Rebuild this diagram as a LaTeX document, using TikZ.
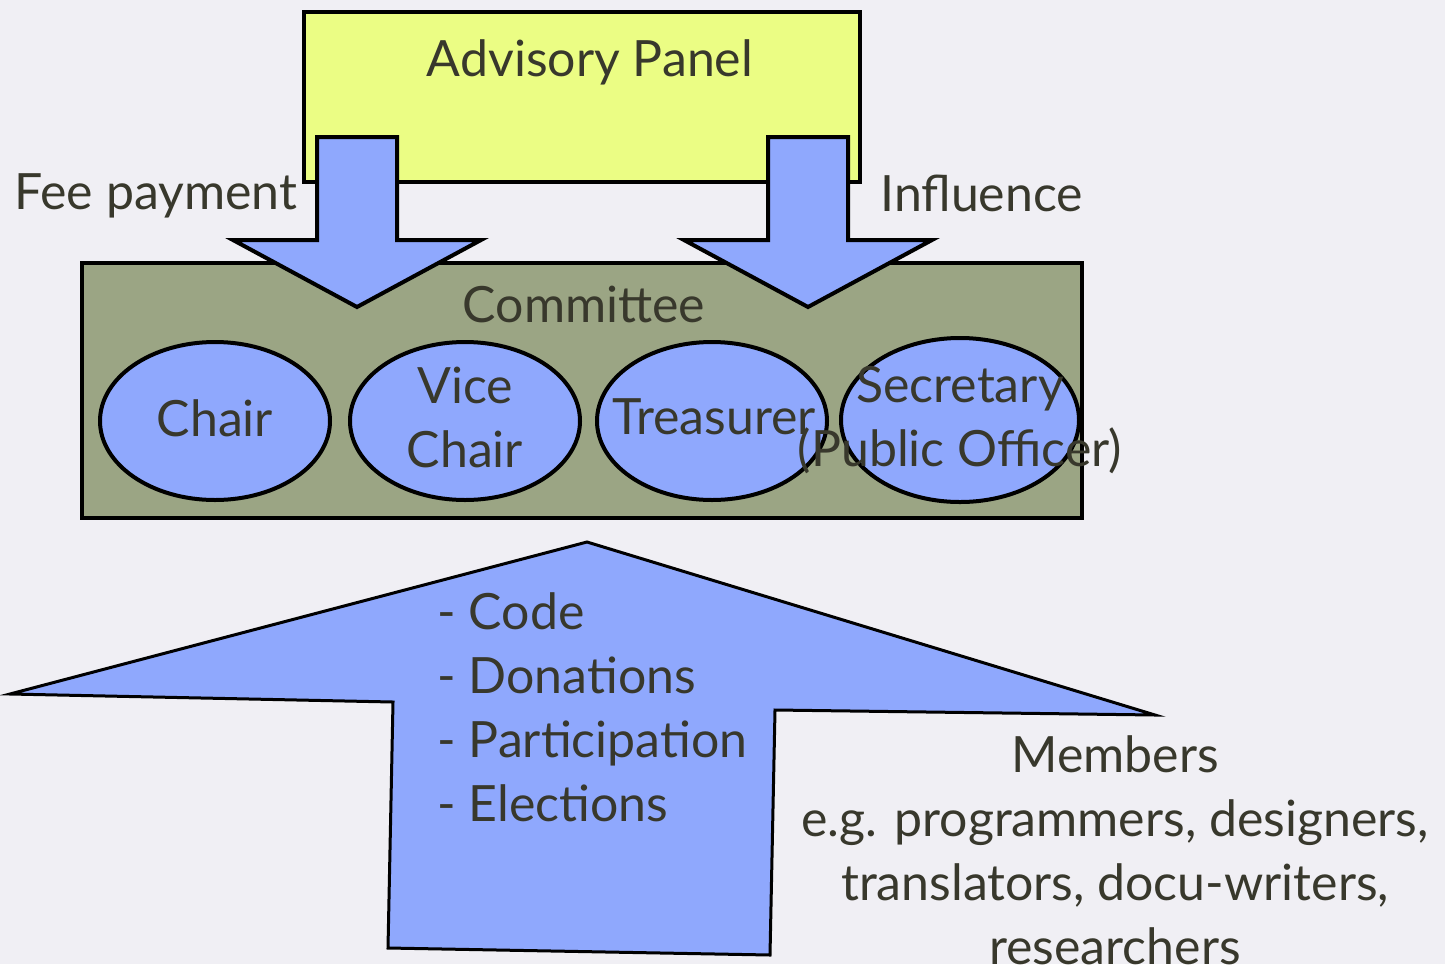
\documentclass[tikz,border=0pt]{standalone}
\usepackage{fontspec}
\setmainfont{Lato}
\usetikzlibrary{shapes.geometric}
\definecolor{paper}{RGB}{240,239,244}
\definecolor{panelyellow}{RGB}{235,253,132}
\definecolor{committeeolive}{RGB}{155,165,132}
\definecolor{roleblue}{RGB}{143,168,253}
\definecolor{ink}{RGB}{56,56,44}
\begin{document}
\begin{tikzpicture}[x=0.5pt,y=-0.5pt]
        \tikzstyle{txt}=[text=ink,inner sep=0pt,font=\fontsize{25}{32}\selectfont]
        \tikzstyle{box}=[rectangle,draw=black,line width=2pt,inner sep=0pt]
        \tikzstyle{role}=[ellipse,draw=black,line width=2pt,fill=roleblue,inner sep=0pt,minimum width=115pt,minimum height=79pt]
        \tikzstyle{flow}=[draw=black,line width=2pt,fill=roleblue,line join=miter]
        % page
        \fill[paper] (0,0) rectangle (1445,964);
        \useasboundingbox (0,0) rectangle (1445,964);
        % committee and its officers
        \node [box,fill=committeeolive,minimum width=500pt,minimum height=127.5pt] (committee) at (582,390.5) {};
        \node [txt] (committeetext) at (584,304) {Committee};
        \node [role] (chair) at (215,421) {};
        \node [role] (vicechair) at (465,421) {};
        \node [role] (treasurer) at (712,421) {};
        \node [role,minimum width=119pt,minimum height=82pt] (secretary) at (960,420) {};
        % advisory panel
        \node [box,fill=panelyellow,minimum width=278pt,minimum height=85pt] (panel) at (582,97) {};
        \node [txt] (paneltext) at (590,62) {Advisory Panel};
        % downward arrows
        \foreach \x in {357,808}
            \path[flow] (\x-40,137) -- (\x+40,137) -- (\x+40,240) -- (\x+124,240) -- (\x,307) -- (\x-124,240) -- (\x-40,240) -- cycle;
        \node [txt,anchor=west] (fee) at (14,196) {Fee payment};
        \node [txt,anchor=west] (influence) at (880,193) {Influence};
        % officer names
        \node [txt] (chairtext) at (215,418) {Chair};
        \node [txt,align=center] (vicechairtext) at (465,417) {Vice\\Chair};
        \node [txt] (treasurertext) at (714,417) {Treasurer};
        \node [txt,align=center] (secretarytext) at (960,420) {Secretary\\(Public Officer)};
        % members arrow
        \path[flow,line width=1.5pt] (587,542) -- (1155,715) -- (775,710) -- (770,955) -- (388,948) -- (393,702) -- (10,694) -- cycle;
        \node [txt,anchor=west,align=left] (contrib) at (437,707) {- Code\\- Donations\\- Participation\\- Elections};
        \node [txt,align=center] (members) at (1115,850) {Members\\e.g. programmers, designers,\\translators, docu-writers,\\researchers};
\end{tikzpicture}
\end{document}
